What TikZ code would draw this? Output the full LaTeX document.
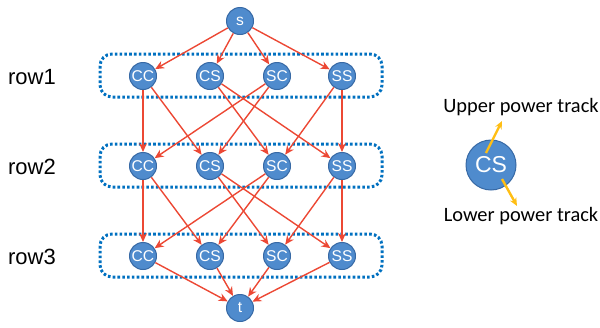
\documentclass[tikz,border=0pt]{standalone}
\usepackage{fontspec}
\setmainfont{Liberation Sans}
\newfontfamily\labelfont{Carlito}
\usetikzlibrary{arrows.meta,positioning,calc}
\definecolor{nodeBlue}{RGB}{79, 139, 205}
\definecolor{nodeEdge}{RGB}{55, 105, 165}
\definecolor{boxBlue}{RGB}{0, 112, 192}
\definecolor{edgeRed}{RGB}{236, 72, 52}
\definecolor{trackGold}{RGB}{255, 190, 20}

\begin{document}
\begin{tikzpicture}[
        x=0.5pt, y=-0.5pt,
        state/.style={circle, draw=nodeEdge, fill=nodeBlue, line width=0.5pt, minimum size=13.5pt, inner sep=0pt, text=white, font=\fontsize{7.8}{8}\selectfont},
        bigstate/.style={state, minimum size=25pt, font=\fontsize{11.5}{12}\selectfont},
        rowbox/.style={draw=boxBlue, line width=1.5pt, dash pattern=on 1.3pt off 1.1pt, rounded corners=6pt},
        rowlabel/.style={font=\fontsize{11}{13}\selectfont},
        trans/.style={-{Stealth[length=4.5pt,width=4pt]}, edgeRed, line width=0.7pt},
        track/.style={-{Stealth[length=4pt,width=3.5pt]}, trackGold, line width=1.2pt},
    ]
        \useasboundingbox (0,0) rectangle (600,327);

        % Source and sink
        \node[state] (s) at (240,21) {s};
        \node[state] (t) at (240,308) {t};

        % Three rows of states
        \foreach \r/\y in {1/76, 2/166, 3/256} {
            \draw[rowbox] (100,\y-22) rectangle (382,\y+21);
            \node[rowlabel] (lab\r) at (32,\y+1) {row\r};
            \node[state] (cc\r) at (143,\y) {CC};
            \node[state] (cs\r) at (210,\y) {CS};
            \node[state] (sc\r) at (277,\y) {SC};
            \node[state] (ss\r) at (342,\y) {SS};
        }

        % Transitions
        \foreach \n in {cc, cs, sc, ss} {
            \draw[trans] (s) -- (\n1);
            \draw[trans] (\n3) -- (t);
        }
        \foreach \r/\q in {1/2, 2/3} {
            \draw[trans] (cc\r) -- (cc\q);
            \draw[trans] (cc\r) -- (cs\q);
            \draw[trans] (cs\r) -- (sc\q);
            \draw[trans] (cs\r) -- (ss\q);
            \draw[trans] (sc\r) -- (cc\q);
            \draw[trans] (sc\r) -- (cs\q);
            \draw[trans] (ss\r) -- (sc\q);
            \draw[trans] (ss\r) -- (ss\q);
        }

        % Power track legend
        \node[bigstate] (key) at (491,165) {CS};
        \node[font=\labelfont\fontsize{10.2}{12}\selectfont] (upper) at (521,107) {Upper power track};
        \node[font=\labelfont\fontsize{10.2}{12}\selectfont] (lower) at (521,216) {Lower power track};
        \coordinate (upTip) at (502,121);
        \coordinate (lowTip) at (517,206);
        \draw[track] ($(key.center)+(-5,-12)$) -- (upTip);
        \draw[track] ($(key.center)+(11,14)$) -- (lowTip);

    \end{tikzpicture}
\end{document}
